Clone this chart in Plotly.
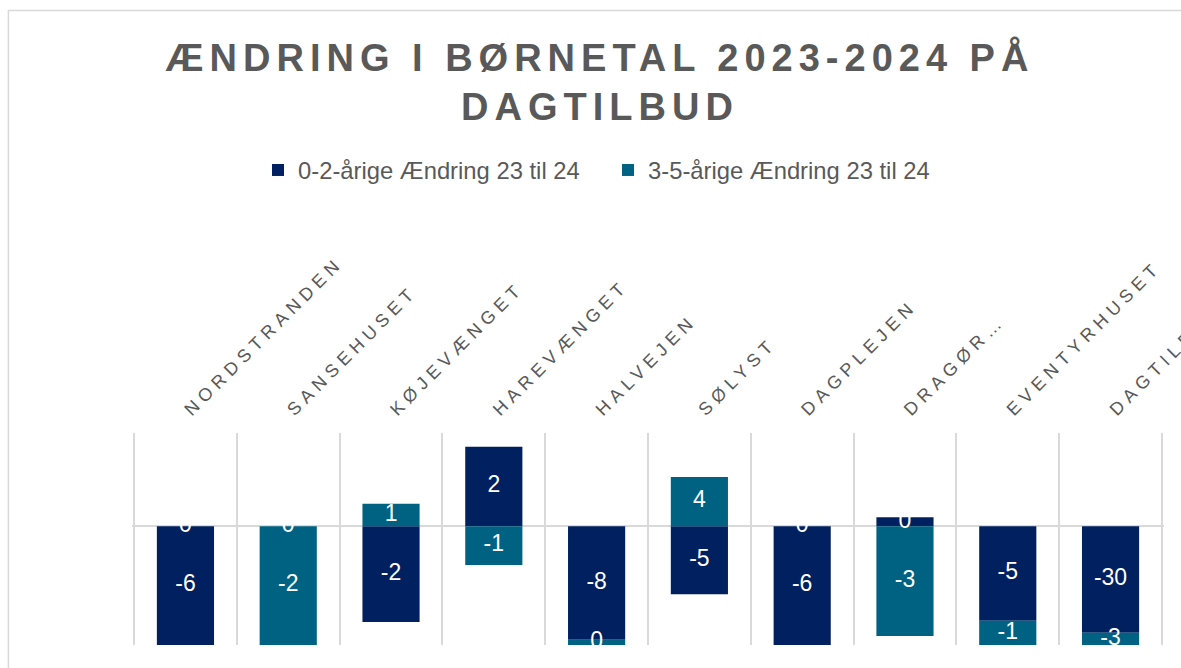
import plotly.graph_objects as go

# ---------------- data ----------------
categories = ["NORDSTRANDEN", "SANSEHUSET", "KØJEVÆNGET", "HAREVÆNGET", "HALVEJEN",
              "SØLYST", "DAGPLEJEN", "DRAGØR…", "EVENTYRHUSET", "DAGTILBUD"]
series_names = ["0-2-årige Ændring 23 til 24", "3-5-årige Ændring 23 til 24"]

# bar heights as drawn (axis units; some bars run past the axis)
bars_0_2 = [-31.0, 0.0, -24.2, 20.1, -28.7, -17.2, -31.0, 2.3, -23.9, -26.9]
bars_3_5 = [0.0, -31.0, 5.7, -9.8, -5.0, 12.5, 0.0, -27.7, -10.0, -10.0]

# data labels printed on the bars
labels_0_2 = ["-6", "0", "-2", "2", "-8", "-5", "-6", "0", "-5", "-30"]
labels_3_5 = ["0", "-2", "1", "-1", "0", "4", "0", "-3", "-1", "-3"]

y_range = [-30.0, 23.6]
x_range = [-0.52, 9.52]

colors = ["#002060", "#006283"]
GRAY = "#595959"
LINE = "#d9d9d9"
FONT = "Liberation Sans, Arial, sans-serif"

W, H = 1181, 668
M_L, M_R, M_T, M_B = 131.6, 17.3, 433, 23


def label_centres(first, second, lo, hi):
    """Centre of the visible part of each stacked segment (relative stacking)."""
    c1, c2 = [], []
    for a, b in zip(first, second):
        pos, neg = 0.0, 0.0
        res = []
        for v in (a, b):
            if v >= 0:
                seg = (pos, pos + v)
                pos += v
            else:
                seg = (neg + v, neg)
                neg += v
            s0, s1 = max(seg[0], lo), min(seg[1], hi)
            res.append((s0 + s1) / 2)
        c1.append(res[0])
        c2.append(res[1])
    return c1, c2


cy1, cy2 = label_centres(bars_0_2, bars_3_5, y_range[0], y_range[1])

fig = go.Figure()
for name, vals, col in zip(series_names, [bars_0_2, bars_3_5], colors):
    fig.add_trace(go.Bar(
        x=categories, y=vals, name=name, marker=dict(color=col, line=dict(width=0)),
        width=0.556, hoverinfo="skip"))

fig.add_trace(go.Scatter(
    x=categories + categories, y=cy1 + cy2, text=labels_0_2 + labels_3_5,
    mode="text", textposition="middle center",
    textfont=dict(color="white", size=23, family=FONT),
    showlegend=False, hoverinfo="skip", cliponaxis=True))


def px_to_paper_x(px):
    return (px - M_L) / (W - M_L - M_R)


def px_to_paper_y(py):
    return (H - M_B - py) / (H - M_T - M_B)


fig.update_layout(
    width=W, height=H,
    margin=dict(l=M_L, r=M_R, t=M_T, b=M_B, autoexpand=False),
    paper_bgcolor="white", plot_bgcolor="white",
    barmode="relative",
    font=dict(family=FONT, color=GRAY),
    title=dict(
        text="ÆNDRING I BØRNETAL 2023-2024 PÅ<br>DAGTILBUD",
        font=dict(family=FONT, size=38, color=GRAY, weight="bold"),
        x=600 / W, xanchor="center", xref="container",
        y=1 - 71 / H, yanchor="top", yref="container"),
    legend=dict(
        orientation="h", xref="container", yref="container",
        x=608 / W, xanchor="center", y=1 - 170 / H, yanchor="middle",
        font=dict(family=FONT, size=23.8, color=GRAY),
        entrywidth=305, entrywidthmode="pixels",
        bgcolor="rgba(0,0,0,0)"),
    xaxis=dict(
        side="top", type="category", range=x_range,
        tickangle=-45, tickson="boundaries", ticks="",
        showgrid=True, gridcolor=LINE, gridwidth=1.5,
        showline=False, zeroline=False, ticklabelstandoff=9,
        tickfont=dict(family=FONT, size=18, color=GRAY)),
    yaxis=dict(
        range=y_range, showticklabels=False, showgrid=False, ticks="",
        zeroline=True, zerolinecolor=LINE, zerolinewidth=2, showline=False),
    shapes=[dict(
        type="rect", xref="paper", yref="paper", layer="below",
        x0=px_to_paper_x(8), x1=px_to_paper_x(1200),
        y0=px_to_paper_y(700), y1=px_to_paper_y(10.5),
        line=dict(color=LINE, width=1.5), fillcolor="rgba(0,0,0,0)")],
)

post = """
document.documentElement.style.margin = '0';
document.body.style.margin = '0';
document.body.style.overflow = 'hidden';
var gd = document.getElementById('{plot_id}');
function spacing(){
  gd.querySelectorAll('.xtick text').forEach(function(t){ t.style.letterSpacing = '5.3px'; });
  gd.querySelectorAll('.gtitle').forEach(function(t){ t.style.letterSpacing = '6px'; });
}
spacing();
gd.on('plotly_afterplot', spacing);
"""

fig.write_html("out.html", post_script=post, config={"displayModeBar": False})
